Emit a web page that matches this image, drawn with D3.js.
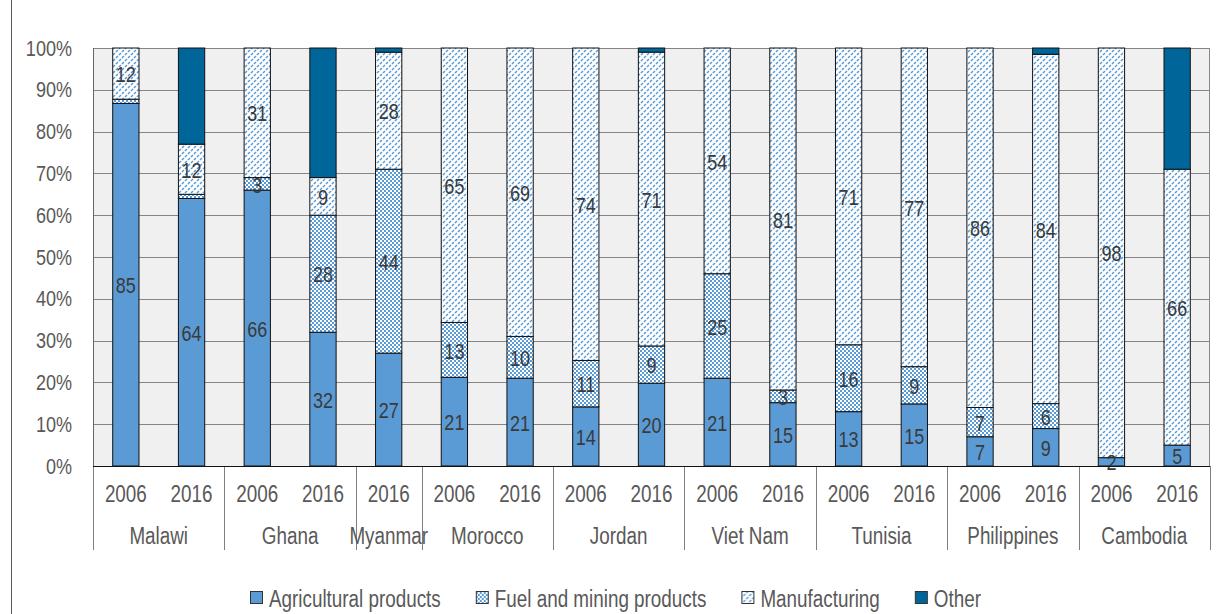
<!DOCTYPE html>
<html>
<head>
<meta charset="utf-8">
<script src="https://cdn.jsdelivr.net/npm/d3@7"></script>
<style>
  body { margin: 0; background: #fff; }
  svg { display: block; }
  text { font-family: "Liberation Sans Narrow", "Arial Narrow", "Liberation Sans", Arial, sans-serif; }
</style>
</head>
<body>
<div id="chart"></div>
<script>
// bar order, left to right
const barCountry = ["Malawi", "Malawi", "Ghana", "Ghana", "Myanmar", "Morocco", "Morocco", "Jordan", "Jordan",
  "Viet Nam", "Viet Nam", "Tunisia", "Tunisia", "Philippines", "Philippines", "Cambodia", "Cambodia"];
const barYear = ["2006", "2016", "2006", "2016", "2016", "2006", "2016", "2006", "2016",
  "2006", "2016", "2006", "2016", "2006", "2016", "2006", "2016"];

// shares (%)
const agricultural = [85, 64, 66, 32, 27, 21, 21, 14, 20, 21, 15, 13, 15, 7, 9, 2, 5];
const fuelMining = [1, 1, 3, 28, 44, 13, 10, 11, 9, 25, 3, 16, 9, 7, 6, 0, 0];
const manufacturing = [12, 12, 31, 9, 28, 65, 69, 74, 71, 54, 81, 71, 77, 86, 84, 98, 66];
const other = [0, 23, 0, 31, 1, 0, 0, 0, 1, 0, 0, 0, 0, 0, 1.5, 0, 29];

const seriesKeys = ["agri", "fuel", "manuf", "other"];
const seriesNames = ["Agricultural products", "Fuel and mining products", "Manufacturing", "Other"];
const yTicks = [0, 0.1, 0.2, 0.3, 0.4, 0.5, 0.6, 0.7, 0.8, 0.9, 1];

const W = 1221, H = 614;
const m = { left: 93, right: 1210, top: 48, bottom: 466 };
const blue = "#5b9bd5", dark = "#006699";
const NARROW = 0.82; // no narrow face installed, squeeze the regular one

const rows = barCountry.map((c, i) => ({
  key: c + "|" + barYear[i] + "|" + i,
  country: c, year: barYear[i],
  agri: agricultural[i], fuel: fuelMining[i], manuf: manufacturing[i], other: other[i]
}));

const svg = d3.select("#chart").append("svg")
  .attr("width", W).attr("height", H);

// places a text at (x,y) with the horizontal squeeze
function narrowText(sel, fx, fy) {
  return sel.attr("x", 0).attr("y", 0)
    .attr("transform", (d, i) => `translate(${fx(d, i)},${fy(d, i)}) scale(${NARROW},1)`);
}

const defs = svg.append("defs");
// checker pattern for fuel
const pf = defs.append("pattern").attr("id", "pFuel")
  .attr("patternUnits", "userSpaceOnUse").attr("width", 4).attr("height", 4);
pf.append("rect").attr("width", 4).attr("height", 4).attr("fill", blue);
pf.append("rect").attr("x", 0).attr("y", 0).attr("width", 2).attr("height", 2).attr("fill", "#fff");
pf.append("rect").attr("x", 2).attr("y", 2).attr("width", 2).attr("height", 2).attr("fill", "#fff");
// dashed diagonal for manufacturing
const pm = defs.append("pattern").attr("id", "pManuf")
  .attr("patternUnits", "userSpaceOnUse").attr("width", 6).attr("height", 6);
pm.append("rect").attr("width", 6).attr("height", 6).attr("fill", "#fff");
pm.append("path").attr("d", "M-1,7 L7,-1 M-4,4 L4,-4 M2,10 L10,2")
  .attr("stroke", blue).attr("stroke-width", 1.5).attr("stroke-dasharray", "2.8,1.4");

const fills = { agri: blue, fuel: "url(#pFuel)", manuf: "url(#pManuf)", other: dark };

// outer frame
svg.append("line").attr("x1", 11.5).attr("x2", 11.5).attr("y1", 0).attr("y2", H)
  .attr("stroke", "#595959").attr("stroke-width", 1);

const x = d3.scaleBand().domain(rows.map(d => d.key))
  .range([m.left, m.right]).paddingInner(0.6).paddingOuter(0.3);
const y = d3.scaleLinear().domain([0, 1]).range([m.bottom, m.top]);

// plot background
svg.append("rect").attr("x", m.left).attr("y", m.top)
  .attr("width", m.right - m.left).attr("height", m.bottom - m.top).attr("fill", "#f0f0f0");

// gridlines
svg.append("g").selectAll("line").data(yTicks).join("line")
  .attr("x1", m.left).attr("x2", m.right)
  .attr("y1", d => Math.round(y(d)) + 0.5).attr("y2", d => Math.round(y(d)) + 0.5)
  .attr("stroke", "#858585").attr("stroke-width", 1.2);

// y tick labels
svg.append("g").selectAll("text").data(yTicks).join("text")
  .call(narrowText, () => 72, d => y(d))
  .attr("text-anchor", "end").attr("dominant-baseline", "central")
  .attr("font-size", 22).attr("fill", "#595959")
  .text(d => d3.format(".0%")(d));

// stacked bars
const stack = d3.stack().keys(seriesKeys).offset(d3.stackOffsetExpand);
const layers = stack(rows);

const gBars = svg.append("g");
layers.forEach(layer => {
  gBars.append("g").selectAll("rect")
    .data(layer.filter(d => d[1] - d[0] > 0))
    .join("rect")
    .attr("x", d => x(d.data.key))
    .attr("width", x.bandwidth())
    .attr("y", d => y(d[1]))
    .attr("height", d => y(d[0]) - y(d[1]))
    .attr("fill", fills[layer.key])
    .attr("stroke", "#111").attr("stroke-width", 1);
});

// value labels
const gLab = svg.append("g");
layers.filter(l => l.key !== "other").forEach(layer => {
  gLab.append("g").selectAll("text")
    .data(layer.filter(d => d.data[layer.key] >= 2))
    .join("text")
    .call(narrowText, d => x(d.data.key) + x.bandwidth() / 2, d => (y(d[0]) + y(d[1])) / 2 + 1)
    .attr("text-anchor", "middle").attr("dominant-baseline", "central")
    .attr("font-size", 22).attr("fill", "#3a3a3a")
    .text(d => Math.round(d.data[layer.key]));
});

// plot frame left/right
svg.append("line").attr("x1", m.left + 0.5).attr("x2", m.left + 0.5)
  .attr("y1", m.top).attr("y2", m.bottom).attr("stroke", "#666");
svg.append("line").attr("x1", m.right - 0.5).attr("x2", m.right - 0.5)
  .attr("y1", m.top).attr("y2", m.bottom).attr("stroke", "#888");

// x axis: years and country groups
const step = x.step();
const gX = svg.append("g");
gX.selectAll("text.year").data(rows).join("text")
  .attr("class", "year")
  .call(narrowText, d => x(d.key) + x.bandwidth() / 2, () => 494)
  .attr("text-anchor", "middle").attr("dominant-baseline", "central")
  .attr("font-size", 23).attr("fill", "#595959")
  .text(d => d.year);

const groups = d3.groups(rows, d => d.country).map(([c, list]) => ({
  country: c,
  x0: x(list[0].key) + x.bandwidth() / 2 - step / 2,
  x1: x(list[list.length - 1].key) + x.bandwidth() / 2 + step / 2
}));

const sepX = [groups[0].x0].concat(groups.map(g => g.x1));
gX.selectAll("line.sep").data(sepX).join("line")
  .attr("class", "sep")
  .attr("x1", d => Math.round(d) + 0.5).attr("x2", d => Math.round(d) + 0.5)
  .attr("y1", m.bottom).attr("y2", 550)
  .attr("stroke", "#7f7f7f").attr("stroke-width", 1);

gX.selectAll("text.country").data(groups).join("text")
  .attr("class", "country")
  .call(narrowText, d => (d.x0 + d.x1) / 2, () => 536)
  .attr("text-anchor", "middle").attr("dominant-baseline", "central")
  .attr("font-size", 23).attr("fill", "#595959")
  .text(d => d.country);

svg.append("line").attr("x1", m.left).attr("x2", m.right)
  .attr("y1", m.bottom + 0.5).attr("y2", m.bottom + 0.5)
  .attr("stroke", "#111").attr("stroke-width", 1.2);

// legend
const legend = svg.append("g");
const gap = 35;
let lx = 0;
seriesKeys.forEach((k, i) => {
  const g = legend.append("g").attr("transform", `translate(${lx},0)`);
  g.append("rect").attr("x", 0.5).attr("y", -6.5).attr("width", 12).attr("height", 12)
    .attr("fill", fills[k]).attr("stroke", "#333");
  const t = g.append("text")
    .attr("transform", `translate(19,1) scale(${NARROW},1)`)
    .attr("dominant-baseline", "central")
    .attr("font-size", 23).attr("fill", "#595959").text(seriesNames[i]);
  lx += 19 + t.node().getComputedTextLength() * NARROW + gap;
});
const legendW = lx - gap;
legend.attr("transform", `translate(${Math.round(615 - legendW / 2)},598)`);
</script>
</body>
</html>
